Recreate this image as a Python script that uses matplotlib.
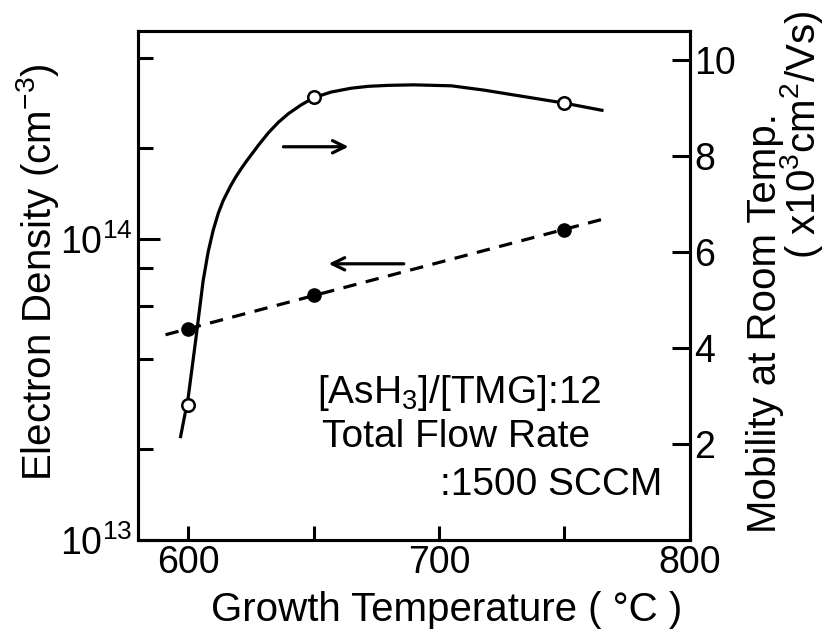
import numpy as np
import matplotlib
matplotlib.use('Agg')
import matplotlib.pyplot as plt
from matplotlib.ticker import NullFormatter

# values
temp_pts = [600, 650, 750]
density = [5.0e13, 6.5e13, 1.066e14]        # filled circles, left axis
mobility = [2.8, 9.23, 9.1]                 # open circles, right axis (x10^3)

# fitted dashed line (straight on log scale)
dash_x = [591, 765]
dash_y = [4.8e13, 1.16e14]

# hand drawn mobility curve
curve_x = [597, 600, 603, 606, 608, 610, 612, 614, 617, 619, 621, 623, 625,
           628, 632, 636, 640, 645, 650, 657, 665, 672, 680, 690, 705, 718,
           731, 750, 765]
curve_y = [2.15, 2.95, 4.15, 5.4, 6.0, 6.45, 6.8, 7.07, 7.38, 7.56, 7.72,
           7.87, 8.01, 8.22, 8.48, 8.7, 8.88, 9.06, 9.21, 9.33, 9.41, 9.45,
           9.47, 9.48, 9.46, 9.37, 9.26, 9.1, 8.95]

plt.rcParams['font.family'] = 'Liberation Sans'
plt.rcParams['mathtext.fontset'] = 'custom'
plt.rcParams['mathtext.rm'] = 'Liberation Sans'
plt.rcParams['mathtext.it'] = 'Liberation Sans:italic'
plt.rcParams['mathtext.bf'] = 'Liberation Sans:bold'

fig = plt.figure(figsize=(8.31, 6.35), dpi=100)
ax1 = fig.add_axes([0.166, 0.150, 0.664, 0.801])
ax2 = ax1.twinx()

# left: electron density
ax1.set_yscale('log')
ax1.set_xlim(580, 800)
ax1.set_ylim(1e13, 4.9e14)
ax1.plot(dash_x, dash_y, color='black', lw=2.3, dashes=(4.2, 3))
ax1.plot(temp_pts, density, 'o', color='black', ms=9.5, zorder=3)

# right: mobility
ax2.set_ylim(0, 10.6)
ax2.plot(curve_x, curve_y, color='black', lw=2.3, solid_joinstyle='round')
ax2.plot(temp_pts, mobility, 'o', mfc='white', mec='black', mew=1.8, ms=9, zorder=3)

# arrows pointing to each axis
arrow_style = dict(arrowstyle='->,head_length=0.45,head_width=0.22',
                   lw=2.3, color='black', mutation_scale=20,
                   shrinkA=0, shrinkB=0)
ax2.annotate('', xy=(664, 8.19), xytext=(638, 8.19), arrowprops=arrow_style)
ax1.annotate('', xy=(656, 8.26e13), xytext=(686, 8.26e13), arrowprops=arrow_style)

# ticks
ax1.set_xticks([600, 700, 800])
ax1.set_xticks([650, 750], minor=True)
ax1.set_yticks([1e13, 1e14])
ax1.set_yticklabels(['$10^{13}$', '$10^{14}$'])
ax1.set_yticks([2e13, 4e13, 6e13, 8e13, 2e14, 4e14], minor=True)
ax1.yaxis.set_minor_formatter(NullFormatter())
ax1.tick_params(axis='x', which='both', direction='in', length=10, width=2.2,
                labelsize=27, pad=4, top=False)
ax1.tick_params(axis='y', which='major', direction='in', length=16, width=2.2,
                labelsize=27, pad=4, right=False)
ax1.tick_params(axis='y', which='minor', direction='in', length=11, width=2.2,
                right=False)

ax2.set_yticks([2, 4, 6, 8, 10])
ax2.set_yticklabels(['2', '4', '6', '8', '10'])
ax2.tick_params(axis='y', direction='in', length=13, width=2.2, labelsize=27,
                pad=3, left=False)

for a in (ax1, ax2):
    for sp in a.spines.values():
        sp.set_linewidth(2.2)

# condition note
ax1.text(0.324, 0.289, '[AsH$_3$]/[TMG]:12', transform=ax1.transAxes,
         fontsize=28, ha='left', va='center')
ax1.text(0.333, 0.202, 'Total Flow Rate', transform=ax1.transAxes,
         fontsize=28, ha='left', va='center')
ax1.text(0.951, 0.108, ':1500 SCCM', transform=ax1.transAxes,
         fontsize=28, ha='right', va='center')

# axis labels
fig.text(0.538, 0.039, 'Growth Temperature ( °C )', fontsize=29,
         ha='center', va='center')
fig.text(0.045, 0.572, 'Electron Density (cm$^{-3}$)', fontsize=29,
         rotation=90, ha='center', va='center')
fig.text(0.921, 0.492, 'Mobility at Room Temp.', fontsize=29,
         rotation=90, ha='center', va='center')
fig.text(0.965, 0.787, '( x10$^3$cm$^2$/Vs)', fontsize=29,
         rotation=90, ha='center', va='center')

fig.savefig('out.png', dpi=100)
